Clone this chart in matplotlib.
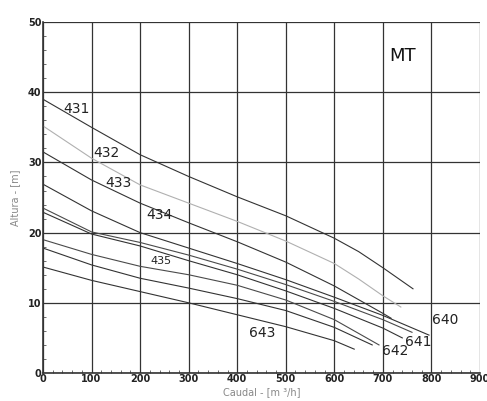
import numpy as np
import matplotlib
matplotlib.use("Agg")
import matplotlib.pyplot as plt
from matplotlib.ticker import MultipleLocator

# curvas: caudal [m3/h] y altura [m]
q_431 = [0, 100, 200, 300, 400, 500, 600, 650, 700, 762]
h_431 = [39.0, 35.0, 31.1, 28.0, 25.1, 22.4, 19.2, 17.3, 15.0, 12.0]

q_432 = [0, 100, 200, 300, 400, 500, 600, 650, 700, 737]
h_432 = [35.2, 30.6, 26.8, 24.2, 21.6, 18.8, 15.6, 13.4, 11.0, 9.4]

q_433 = [0, 100, 200, 300, 400, 500, 600, 700, 717]
h_433 = [31.5, 27.5, 24.2, 21.4, 18.7, 15.8, 12.4, 8.5, 7.8]

q_434 = [0, 100, 200, 300, 400, 500, 600, 700, 795]
h_434 = [26.9, 23.1, 20.0, 17.8, 15.6, 13.3, 10.8, 8.2, 5.4]

q_435 = [0, 100, 200, 300, 400, 500, 600, 700, 760]
h_435 = [23.5, 20.1, 18.6, 16.8, 14.8, 12.6, 10.2, 7.6, 5.8]

q_640 = [0, 100, 200, 300, 400, 500, 600, 700, 740]
h_640 = [22.9, 19.8, 18.1, 16.0, 14.0, 11.7, 9.2, 6.4, 5.0]

q_641 = [0, 100, 200, 300, 400, 500, 600, 692]
h_641 = [19.0, 16.9, 15.2, 14.0, 12.5, 10.4, 7.6, 4.0]

q_642 = [0, 100, 200, 300, 400, 500, 600, 678]
h_642 = [17.8, 15.4, 13.5, 12.1, 10.6, 8.9, 6.5, 4.0]

q_643 = [0, 100, 200, 300, 400, 500, 600, 641]
h_643 = [15.1, 13.2, 11.6, 10.0, 8.3, 6.6, 4.6, 3.4]

curvas = [(q_431, h_431, "#333333"), (q_432, h_432, "#b0b0b0"),
          (q_433, h_433, "#333333"), (q_434, h_434, "#333333"),
          (q_435, h_435, "#4a4a4a"), (q_640, h_640, "#333333"),
          (q_641, h_641, "#4a4a4a"), (q_642, h_642, "#333333"),
          (q_643, h_643, "#333333")]

etiquetas = ["431", "432", "433", "434", "435", "640", "641", "642", "643"]
etq_x = [69, 130, 155, 240, 243, 828, 772, 726, 452]
etq_y = [37.6, 31.4, 27.0, 22.5, 16.0, 7.5, 4.4, 3.1, 5.7]
etq_size = [10, 10, 10, 10, 8, 10, 10, 10, 10]

fig = plt.figure(figsize=(4.87, 4.01), dpi=100)
ax = fig.add_axes([0.0883, 0.0698, 0.8973, 0.8752])

for q, h, c in curvas:
    ax.plot(q, h, color=c, lw=0.8)

for t, x, y, s in zip(etiquetas, etq_x, etq_y, etq_size):
    ax.text(x, y, t, fontsize=s, ha="center", va="center", color="#222222")

ax.text(741, 45.1, "MT", fontsize=13, ha="center", va="center", color="#111111")

ax.set_xlim(0, 900)
ax.set_ylim(0, 50)
ax.xaxis.set_major_locator(MultipleLocator(100))
ax.yaxis.set_major_locator(MultipleLocator(10))
ax.xaxis.set_minor_locator(MultipleLocator(20))
ax.yaxis.set_minor_locator(MultipleLocator(2))
ax.grid(True, which="major", color="#333333", lw=0.9)
ax.tick_params(which="both", direction="in", length=2, width=0.6, color="#555555")
ax.tick_params(which="major", length=0, pad=1, labelsize=7)
for lab in ax.get_xticklabels() + ax.get_yticklabels():
    lab.set_fontweight("bold")
    lab.set_color("#222222")

for s in ["top", "right"]:
    ax.spines[s].set_visible(False)
for s in ["left", "bottom"]:
    ax.spines[s].set_color("#333333")
    ax.spines[s].set_linewidth(1.2)

ax.set_xlabel("Caudal - [m \u00b3/h]", fontsize=7, color="#888888", labelpad=2)
ax.set_ylabel("Altura - [m]", fontsize=7, color="#888888", labelpad=6)

fig.savefig("out.png", dpi=100)
